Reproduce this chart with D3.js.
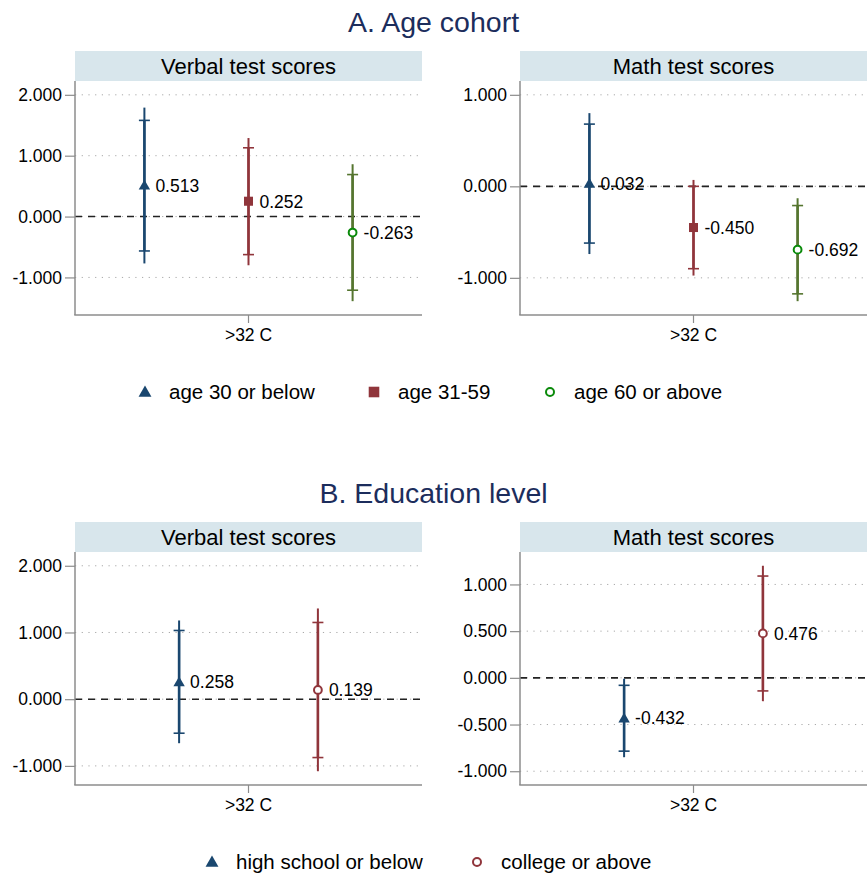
<!DOCTYPE html>
<html>
<head>
<meta charset="utf-8">
<script src="https://cdn.jsdelivr.net/npm/d3@7"></script>
<style>
  html, body { margin: 0; padding: 0; background: #fff; }
  svg { display: block; font-family: Arial, "Liberation Sans", sans-serif; }
</style>
</head>
<body>
<svg id="chart" width="867" height="878"></svg>
<script>
// ---------------- DATA ----------------
const xCategory = [">32 C"];
const ageGroups = ["age 30 or below", "age 31-59", "age 60 or above"];
const eduGroups = ["high school or below", "college or above"];

const ageVerbalEst  = [0.513, 0.252, -0.263];
const ageVerbalLo95 = [-0.77, -0.80, -1.39];
const ageVerbalHi95 = [1.79, 1.29, 0.86];
const ageVerbalLo90 = [-0.565, -0.625, -1.21];
const ageVerbalHi90 = [1.58, 1.13, 0.69];

const ageMathEst  = [0.032, -0.450, -0.692];
const ageMathLo95 = [-0.74, -0.975, -1.255];
const ageMathHi95 = [0.80, 0.07, -0.13];
const ageMathLo90 = [-0.62, -0.90, -1.175];
const ageMathHi90 = [0.68, 0.00, -0.21];

const eduVerbalEst  = [0.258, 0.139];
const eduVerbalLo95 = [-0.66, -1.08];
const eduVerbalHi95 = [1.18, 1.36];
const eduVerbalLo90 = [-0.51, -0.875];
const eduVerbalHi90 = [1.03, 1.15];

const eduMathEst  = [-0.432, 0.476];
const eduMathLo95 = [-0.85, -0.25];
const eduMathHi95 = [-0.01, 1.20];
const eduMathLo90 = [-0.785, -0.14];
const eduMathHi90 = [-0.08, 1.09];

const ageVerbalTicks = [-1, 0, 1, 2];
const ageMathTicks   = [-1, 0, 1];
const eduVerbalTicks = [-1, 0, 1, 2];
const eduMathTicks   = [-1, -0.5, 0, 0.5, 1];

const sectionTitles = ["A. Age cohort", "B. Education level"];
const panelTitles = ["Verbal test scores", "Math test scores"];

// ---------------- STYLE ----------------
const ageStyles = [
  {line: "#1a476f", marker: "triangle", fill: "#1a476f", stroke: "#1a476f"},
  {line: "#90353b", marker: "square", fill: "#90353b", stroke: "#90353b"},
  {line: "#55752f", marker: "circle", fill: "none", stroke: "#0a8a0a"}
];
const eduStyles = [
  {line: "#1a476f", marker: "triangle", fill: "#1a476f", stroke: "#1a476f"},
  {line: "#90353b", marker: "circle", fill: "none", stroke: "#90353b"}
];

const fmt = d3.formatLocale({decimal: ".", thousands: ",", grouping: [3], currency: ["", ""], minus: "-"}).format(".3f");
const svg = d3.select("#chart");
const FONT = 'Arial, "Liberation Sans", sans-serif';

function markerPath(type, big) {
  if (type === "triangle") return d3.symbol(d3.symbolTriangle, big ? 72 : 56)();
  if (type === "square") return d3.symbol(d3.symbolSquare, big ? 112 : 82)();
  return null;
}

function drawMarker(g, type, st, x, y, big) {
  if (type === "circle") {
    g.append("circle").attr("cx", x).attr("cy", y).attr("r", big ? 4 : 3.9)
      .attr("fill", "#fff").attr("stroke", st.stroke).attr("stroke-width", 2);
  } else {
    const dy = type === "triangle" ? 1 : 0;
    g.append("path").attr("d", markerPath(type, big))
      .attr("transform", `translate(${x},${y + dy})`)
      .attr("fill", st.fill);
  }
}

function drawPanel(opt) {
  const {x0, x1, y0, y1, title, groups, est, lo95, hi95, lo90, hi90, ticks, styles, pad} = opt;
  const g = svg.append("g");

  // header band
  g.append("rect").attr("x", x0).attr("y", y0 - 30).attr("width", x1 - x0).attr("height", 30)
    .attr("fill", "#d8e6ec");
  g.append("text").attr("x", (x0 + x1) / 2).attr("y", y0 - 7.5).attr("text-anchor", "middle")
    .attr("font-size", 22).attr("fill", "#000").text(title);

  // y scale
  const lo = Math.min(d3.min(lo95), d3.min(ticks));
  const hi = Math.max(d3.max(hi95), d3.max(ticks));
  const p = (hi - lo) * 0.067;
  const y = d3.scaleLinear().domain([lo - p, hi + p]).range([y1, y0]);
  const xs = d3.scalePoint().domain(groups).range([x0, x1]).padding(pad);
  const xb = d3.scaleBand().domain(xCategory).range([x0, x1]);

  // grid
  g.append("g").selectAll("line").data(ticks).join("line")
    .attr("x1", x0).attr("x2", x1).attr("y1", d => y(d)).attr("y2", d => y(d))
    .attr("stroke", "#a8a8a8").attr("stroke-width", 1).attr("stroke-dasharray", "1.2,5.5");

  // zero line
  g.append("line").attr("x1", x0).attr("x2", x1).attr("y1", y(0)).attr("y2", y(0))
    .attr("stroke", "#222").attr("stroke-width", 1.6).attr("stroke-dasharray", "7,6");

  // y axis
  const ya = g.append("g").attr("transform", `translate(${x0},0)`)
    .call(d3.axisLeft(y).tickValues(ticks).tickFormat(fmt).tickSize(10).tickPadding(3).tickSizeOuter(0));
  ya.select(".domain").attr("stroke", "#8c8c8c").attr("stroke-width", 1.5)
    .attr("d", `M0,${y0}V${y1}`);
  ya.selectAll(".tick line").attr("stroke", "#8c8c8c").attr("stroke-width", 1.2);
  ya.selectAll(".tick text").attr("font-size", 17.5).attr("font-family", FONT).attr("fill", "#000");

  // x axis
  const xa = g.append("g").attr("transform", `translate(0,${y1})`)
    .call(d3.axisBottom(xb).tickSize(8).tickPadding(6).tickSizeOuter(0));
  xa.select(".domain").attr("stroke", "#8c8c8c").attr("stroke-width", 1.5)
    .attr("d", `M${x0 - 0.75},0H${x1}`);
  xa.selectAll(".tick line").attr("stroke", "#8c8c8c").attr("stroke-width", 1.2);
  xa.selectAll(".tick text").attr("font-size", 17.5).attr("font-family", FONT).attr("fill", "#000");

  // series
  groups.forEach((grp, i) => {
    const st = styles[i];
    const cx = xs(grp);
    const s = g.append("g");
    s.append("line").attr("x1", cx).attr("x2", cx).attr("y1", y(lo95[i])).attr("y2", y(hi95[i]))
      .attr("stroke", st.line).attr("stroke-width", 2);
    s.append("line").attr("x1", cx).attr("x2", cx).attr("y1", y(lo90[i])).attr("y2", y(hi90[i]))
      .attr("stroke", st.line).attr("stroke-width", 2.6);
    [lo90[i], hi90[i]].forEach(v => {
      s.append("line").attr("x1", cx - 5.5).attr("x2", cx + 5.5).attr("y1", y(v)).attr("y2", y(v))
        .attr("stroke", st.line).attr("stroke-width", 1.6);
    });
    drawMarker(s, st.marker, st, cx, y(est[i]), false);
    s.append("text").attr("x", cx + 11).attr("y", y(est[i])).attr("dy", "0.36em")
      .attr("font-size", 17.5).attr("fill", "#000").text(fmt(est[i]));
  });
}

function drawLegend(items, styles, xsSym, yc) {
  const g = svg.append("g");
  items.forEach((t, i) => {
    drawMarker(g, styles[i].marker, styles[i], xsSym[i], yc, true);
    g.append("text").attr("x", xsSym[i] + 24).attr("y", yc).attr("dy", "0.36em")
      .attr("font-size", 20.5).attr("fill", "#000").text(t);
  });
}

// section titles
svg.append("text").attr("x", 433.5).attr("y", 32).attr("text-anchor", "middle")
  .attr("font-size", 28.5).attr("fill", "#1c2d5c").text(sectionTitles[0]);
svg.append("text").attr("x", 433.5).attr("y", 503).attr("text-anchor", "middle")
  .attr("font-size", 28.5).attr("fill", "#1c2d5c").text(sectionTitles[1]);

// panels
drawPanel({x0: 75, x1: 422, y0: 81, y1: 315, title: panelTitles[0], groups: ageGroups,
  est: ageVerbalEst, lo95: ageVerbalLo95, hi95: ageVerbalHi95, lo90: ageVerbalLo90, hi90: ageVerbalHi90,
  ticks: ageVerbalTicks, styles: ageStyles, pad: 2 / 3});
drawPanel({x0: 520, x1: 867, y0: 81, y1: 315, title: panelTitles[1], groups: ageGroups,
  est: ageMathEst, lo95: ageMathLo95, hi95: ageMathHi95, lo90: ageMathLo90, hi90: ageMathHi90,
  ticks: ageMathTicks, styles: ageStyles, pad: 2 / 3});
drawPanel({x0: 75, x1: 422, y0: 552, y1: 785, title: panelTitles[0], groups: eduGroups,
  est: eduVerbalEst, lo95: eduVerbalLo95, hi95: eduVerbalHi95, lo90: eduVerbalLo90, hi90: eduVerbalHi90,
  ticks: eduVerbalTicks, styles: eduStyles, pad: 0.75});
drawPanel({x0: 520, x1: 867, y0: 552, y1: 785, title: panelTitles[1], groups: eduGroups,
  est: eduMathEst, lo95: eduMathLo95, hi95: eduMathHi95, lo90: eduMathLo90, hi90: eduMathHi90,
  ticks: eduMathTicks, styles: eduStyles, pad: 0.75});

// legends
drawLegend(ageGroups, ageStyles, [145, 374, 550], 392);
drawLegend(eduGroups, eduStyles, [212, 477], 862);
</script>
</body>
</html>
